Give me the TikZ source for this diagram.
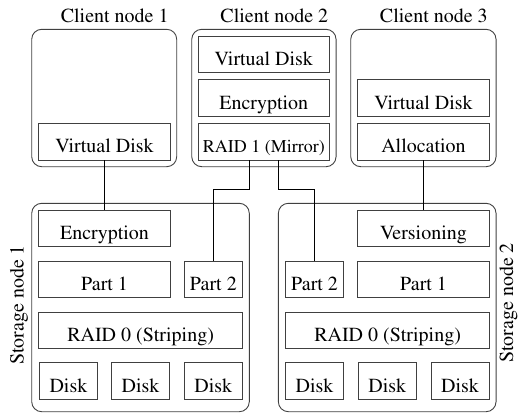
\documentclass[tikz,border=0pt]{standalone}
\usepackage[T1]{fontenc}
\usepackage{mathptmx}
\usetikzlibrary{positioning, calc}

\begin{document}
\begin{tikzpicture}[x=1pt, y=-1pt, font=\rmfamily\fontsize{20}{24}\selectfont,
    frame/.style={draw=black!75, rounded corners=10pt, inner sep=0pt, line width=0.9pt},
    layer/.style={draw=black!75, inner sep=0pt, text height=29.5pt, text depth=7pt, line width=0.9pt},
    wide/.style={layer, minimum width=131.5pt},
    narrow/.style={layer, minimum width=58pt},
    link/.style={line width=0.8pt}]
    \useasboundingbox (0, 0) rectangle (520, 413);

    % client nodes
    \node[frame, minimum width=145pt, minimum height=137.4pt] (client1) at (104.2, 98) {};
    \node[frame, minimum width=144.3pt, minimum height=137.4pt] (client2) at (263.9, 98) {};
    \node[frame, minimum width=145.3pt, minimum height=137.4pt] (client3) at (423.4, 98) {};

    \node[anchor=base] (title1) at (114.7, 22.7) {Client node 1};
    \node[anchor=base] (title2) at (274.3, 22.7) {Client node 2};
    \node[anchor=base] (title3) at (433.8, 22.7) {Client node 3};

    \node[wide] (vd1) at (104.5, 141.7) {Virtual Disk};

    \node[wide] (vd2) at (263.8, 54.3) {Virtual Disk};
    \node[wide] (enc2) at (263.8, 98) {Encryption};
    \node[wide, font=\rmfamily\fontsize{18}{22}\selectfont] (mirror) at (263.8, 141.7) {RAID 1 (Mirror)};

    \node[wide] (vd3) at (423.5, 98) {Virtual Disk};
    \node[wide] (alloc3) at (423.5, 141.7) {Allocation};

    % storage nodes
    \node[frame, minimum width=217.6pt, minimum height=208.4pt] (storage1) at (140.5, 307.5) {};
    \node[frame, minimum width=217.7pt, minimum height=208.4pt] (storage2) at (387.2, 307.5) {};

    \node[rotate=90] (slabel1) at (19, 305) {Storage node 1};
    \node[rotate=90] (slabel2) at (508.5, 303) {Storage node 2};

    \node[wide] (encs1) at (104.5, 228.3) {Encryption};
    \node[wide] (parta1) at (104.5, 279.3) {Part 1};
    \node[narrow] (partb1) at (213.3, 279.3) {Part 2};
    \node[layer, minimum width=203.5pt] (raid01) at (140.6, 330.3) {RAID 0 (Striping)};
    \node[narrow] (diska1) at (68.4, 381) {Disk};
    \node[narrow] (diskb1) at (140.5, 381) {Disk};
    \node[narrow] (diskc1) at (213.3, 381) {Disk};

    \node[wide] (vers2) at (423.5, 228.3) {Versioning};
    \node[narrow] (partb2) at (314.5, 279.3) {Part 2};
    \node[wide] (parta2) at (423.5, 279.3) {Part 1};
    \node[layer, minimum width=203.5pt] (raid02) at (387.6, 330.3) {RAID 0 (Striping)};
    \node[narrow] (diska2) at (314.5, 381) {Disk};
    \node[narrow] (diskb2) at (387.2, 381) {Disk};
    \node[narrow] (diskc2) at (460, 381) {Disk};

    % links
    \draw[link] (vd1.south) -- (encs1.north);
    \draw[link] ([xshift=-14.5pt]mirror.south) -- ++(0, 28.5) -| (partb1.north);
    \draw[link] ([xshift=14.5pt]mirror.south) -- ++(0, 28.5) -| (partb2.north);
    \draw[link] (alloc3.south) -- (vers2.north);

\end{tikzpicture}
\end{document}
